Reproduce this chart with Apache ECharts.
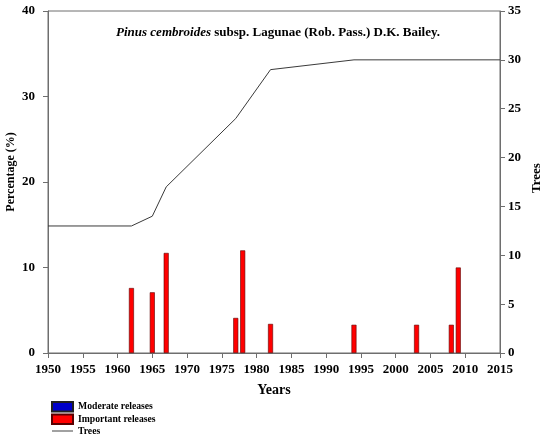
<!DOCTYPE html>
<html>
<head>
<meta charset="utf-8">
<script src="https://cdn.jsdelivr.net/npm/echarts@6/dist/echarts.min.js"></script>
<style>html,body{margin:0;padding:0;background:#fff;}#c{width:550px;height:439px;}</style>
</head>
<body>
<div id="c"></div>
<script>
var releaseYears = [1962, 1965, 1967, 1977, 1978, 1982, 1994, 2003, 2008, 2009];
var importantPct = [7.6, 7.1, 11.7, 4.1, 12.0, 3.4, 3.3, 3.3, 3.3, 10.0];
var moderatePct = [];
var treeYears = [1950, 1962, 1965, 1967, 1977, 1982, 1994, 2015];
var treeCounts = [13, 13, 14, 17, 24, 29, 30, 30];

var F = 'Liberation Serif';
var axisColor = '#6e6e6e';
var chart = echarts.init(document.getElementById('c'));
chart.setOption({
  animation: false,
  backgroundColor: '#fff',
  title: {
    text: '{i|Pinus cembroides}{n| subsp. Lagunae (Rob. Pass.) D.K. Bailey.}',
    left: 273, top: 21, textAlign: 'center',
    textStyle: {
      rich: {
        i: {fontFamily: F, fontWeight: 'bold', fontStyle: 'italic', fontSize: 13, color: '#000'},
        n: {fontFamily: F, fontWeight: 'bold', fontSize: 13, color: '#000'}
      }
    }
  },
  grid: {left: 48, right: 50, top: 11, bottom: 86, show: true, borderColor: axisColor, borderWidth: 1},
  legend: {
    orient: 'vertical', left: 51, top: 401, height: 60, itemWidth: 21, itemHeight: 9.5, itemGap: 1,
    padding: 0,
    textStyle: {fontFamily: F, fontWeight: 'bold', fontSize: 9.7, color: '#000', lineHeight: 10},
    data: [
      {name: 'Moderate releases', icon: 'rect'},
      {name: 'Important releases', icon: 'rect'},
      {name: 'Trees', icon: 'path://M0,0 L21,0 L21,1.6 L0,1.6 Z', itemStyle: {color: '#8a8a8a'}}
    ]
  },
  xAxis: {
    type: 'value', min: 1950, max: 2015, interval: 5,
    axisLine: {lineStyle: {color: axisColor}},
    axisTick: {show: true, inside: false, length: 5, lineStyle: {color: axisColor}},
    axisLabel: {fontFamily: F, fontWeight: 'bold', fontSize: 13, color: '#000', margin: 10,
      formatter: function (v) { return String(v); }},
    splitLine: {show: false},
    name: 'Years', nameLocation: 'middle', nameGap: 30,
    nameTextStyle: {fontFamily: F, fontWeight: 'bold', fontSize: 14, color: '#000'}
  },
  yAxis: [
    {
      type: 'value', min: 0, max: 40, interval: 10, position: 'left',
      axisLine: {show: true, lineStyle: {color: axisColor}},
      axisTick: {show: true, inside: false, length: 5, lineStyle: {color: axisColor}},
      axisLabel: {fontFamily: F, fontWeight: 'bold', fontSize: 13, color: '#000', margin: 13},
      splitLine: {show: false}
    },
    {
      type: 'value', min: 0, max: 35, interval: 5, position: 'right',
      axisLine: {show: true, lineStyle: {color: axisColor}},
      axisTick: {show: true, inside: false, length: 5, lineStyle: {color: axisColor}},
      axisLabel: {fontFamily: F, fontWeight: 'bold', fontSize: 13, color: '#000', margin: 8},
      splitLine: {show: false}
    }
  ],
  graphic: [
    {type: 'text', x: 11, y: 172, rotation: Math.PI / 2,
      style: {text: 'Percentage (%)', fontFamily: F, fontWeight: 'bold', fontSize: 12, fill: '#000', align: 'center', verticalAlign: 'middle'}},
    {type: 'text', x: 537, y: 178, rotation: Math.PI / 2,
      style: {text: 'Trees', fontFamily: F, fontWeight: 'bold', fontSize: 13, fill: '#000', align: 'center', verticalAlign: 'middle'}}
  ],
  series: [
    {
      name: 'Moderate releases', type: 'bar', barWidth: 5,
      itemStyle: {color: '#0000c8', borderColor: '#202020', borderWidth: 0.5},
      data: moderatePct
    },
    {
      name: 'Important releases', type: 'bar', barWidth: 5, barGap: '-100%',
      itemStyle: {color: '#ff0000', borderColor: '#5a0000', borderWidth: 0.6},
      data: releaseYears.map(function (y, i) { return [y, importantPct[i]]; })
    },
    {
      name: 'Trees', type: 'line', yAxisIndex: 1, symbol: 'none',
      lineStyle: {color: '#3a3a3a', width: 1},
      itemStyle: {color: '#8a8a8a'},
      data: treeYears.map(function (y, i) { return [y, treeCounts[i]]; })
    }
  ]
});
</script>
</body>
</html>
